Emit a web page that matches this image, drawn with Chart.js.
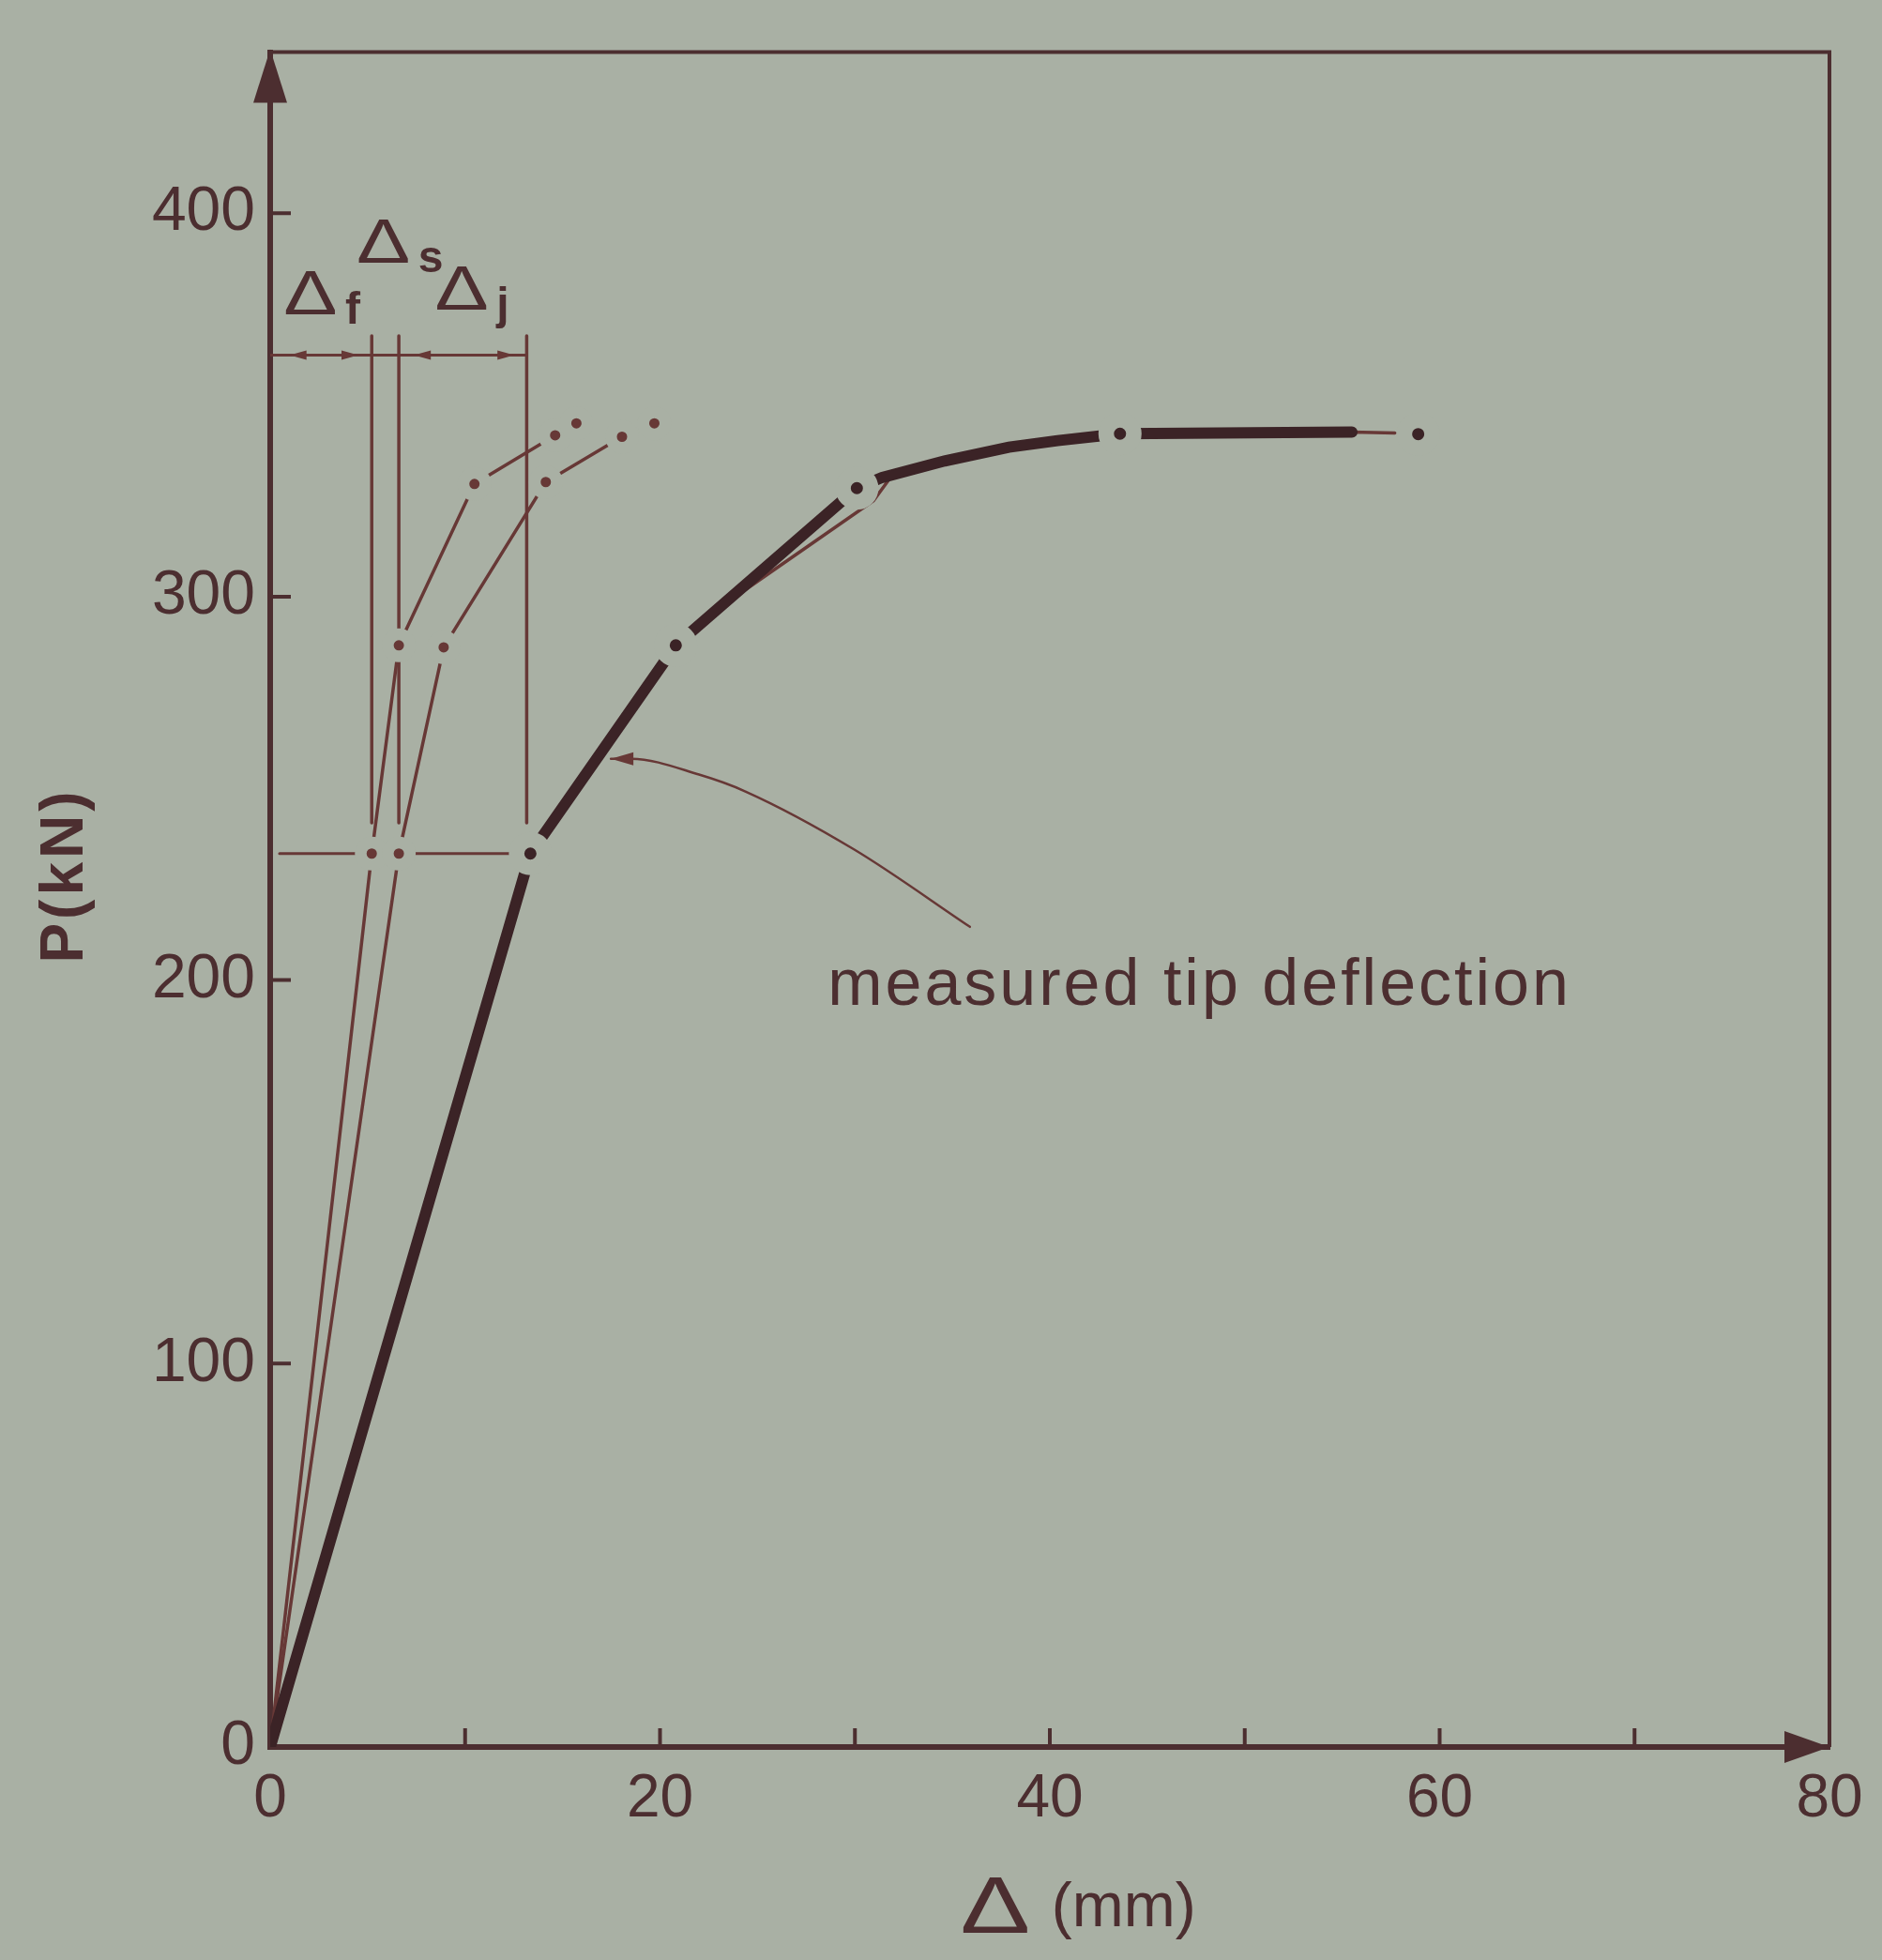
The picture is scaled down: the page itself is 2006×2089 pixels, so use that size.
<!DOCTYPE html>
<html>
<head>
<meta charset="utf-8">
<title>P – Δ tip deflection</title>
<script src="https://cdn.jsdelivr.net/npm/chart.js@4.4.1/dist/chart.umd.min.js"></script>
<style>
  html, body { margin: 0; padding: 0; background: #a9b0a4; }
  canvas { display: block; }
</style>
</head>
<body>
<canvas id="chart" width="2006" height="2089"></canvas>
<script>
// ── Values (Δ in mm, P in kN) ────────────────────────────────
const deltaF    = [[0, 0], [5.21, 233], [6.60, 287.3], [10.48, 329.4], [14.62, 342.1]];
const deltaFS   = [[0, 0], [6.60, 233], [8.90, 286.8], [14.14, 329.9], [18.05, 341.7]];
const deltaCalc = [[20.81, 287.3], [23.5, 298.7], [30.95, 325.0], [31.9, 331.6], [34.6, 335.6], [37.9, 339.2], [40.4, 340.9], [43.6, 342.6], [55.5, 342.9], [57.7, 342.7]];
const measured  = [[0, 0], [13.35, 233], [20.81, 287.3], [30.1, 328.3], [31.4, 331.1], [34.6, 335.4], [37.9, 339.0], [40.4, 340.7], [43.6, 342.5], [55.5, 342.9]];
const dotsThin  = [[5.21, 233], [6.60, 233], [6.60, 287.3], [10.48, 329.4], [14.62, 342.1], [15.71, 345.2],
                   [8.90, 286.8], [14.14, 329.9], [18.05, 341.7], [19.71, 345.2]];
const dotsThick = [[13.35, 233], [20.81, 287.3], [30.1, 328.3], [43.6, 342.5], [58.9, 342.4]];
const splitX    = [5.21, 6.60, 13.16];     // Δf | Δs | Δj boundaries
const splitP    = [241, 368];              // extent of the boundary lines
const refLoad   = 233;                     // chain line where components are read
const dimLoad   = 363;                     // dimension line
const dimArrows = [[1.38, -1], [4.14, 1], [7.76, -1], [12.14, 1]];
const leader    = [[17.48, 257.7], [18.52, 257.7], [22.0, 253.6], [24.38, 249.2], [29.95, 234.1], [35.9, 213.9]];
const xTicks    = [0, 10, 20, 30, 40, 50, 60, 70, 80];
const xLabels   = [0, 20, 40, 60, 80];
const yTicks    = [0, 100, 200, 300, 400];
const deltaTags = [['f', 2.07, 373.6], ['s', 5.81, 387.0], ['j', 9.83, 374.8]];

// ── Look ─────────────────────────────────────────────────────
const PAPER = '#a9b0a4';
const INK   = '#4c2e30';
const THIN  = '#673836';
const THICK = '#3b2326';
const FONT  = "'Liberation Sans', Arial, Helvetica, sans-serif";

const pts = arr => arr.map(([x, y]) => ({ x, y }));
const lineDs = (data, color, width, extra) => Object.assign({
  data: pts(data), showLine: true, borderColor: color, borderWidth: width,
  pointRadius: 0, pointHoverRadius: 0, borderCapStyle: 'round', fill: false,
}, extra);

function arrowHead(ctx, x, y, ang, len, half) {
  ctx.save();
  ctx.translate(x, y);
  ctx.rotate(ang);
  ctx.beginPath();
  ctx.moveTo(0, 0);
  ctx.lineTo(-len, -half);
  ctx.lineTo(-len, half);
  ctx.closePath();
  ctx.fill();
  ctx.restore();
}

function delta(ctx, cx, base, size, sx) {
  ctx.save();
  ctx.font = `${size}px ${FONT}`;
  ctx.textAlign = 'center';
  ctx.textBaseline = 'alphabetic';
  ctx.translate(cx, base);
  ctx.scale(sx, 1);
  ctx.fillText('Δ', 0, 0);
  ctx.restore();
}

// frame, arrows, inward ticks and texts
const figurePlugin = {
  id: 'figure',
  beforeDraw(chart) {
    const ctx = chart.ctx;
    ctx.save();
    ctx.fillStyle = PAPER;
    ctx.fillRect(0, 0, chart.width, chart.height);
    ctx.restore();
  },
  afterDraw(chart) {
    const { ctx, chartArea: a, scales: { x, y } } = chart;
    ctx.save();
    ctx.strokeStyle = INK;
    ctx.fillStyle = INK;

    // box top and right
    ctx.lineWidth = 4;
    ctx.beginPath();
    ctx.moveTo(a.left, a.top);
    ctx.lineTo(a.right, a.top);
    ctx.lineTo(a.right, a.bottom);
    ctx.stroke();

    // axis arrows
    arrowHead(ctx, a.left, a.top - 3, -Math.PI / 2, 57, 18);
    arrowHead(ctx, a.right, a.bottom, 0, 48, 17);

    // inward tick marks
    ctx.lineWidth = 4;
    ctx.beginPath();
    xTicks.slice(1, -1).forEach(v => {
      const px = x.getPixelForValue(v);
      ctx.moveTo(px, a.bottom);
      ctx.lineTo(px, a.bottom - 20);
    });
    yTicks.slice(1).forEach(v => {
      const py = y.getPixelForValue(v);
      ctx.moveTo(a.left, py);
      ctx.lineTo(a.left + 22, py);
    });
    ctx.stroke();

    // dimension line arrowheads
    ctx.fillStyle = THIN;
    dimArrows.forEach(([v, dir]) => {
      arrowHead(ctx, x.getPixelForValue(v) + dir * 8, y.getPixelForValue(dimLoad),
                dir > 0 ? 0 : Math.PI, 18, 5);
    });
    // leader arrowhead
    arrowHead(ctx, x.getPixelForValue(leader[0][0]), y.getPixelForValue(leader[0][1]),
              Math.PI, 24, 7);

    // Δf, Δs, Δj
    ctx.fillStyle = INK;
    deltaTags.forEach(([sub, xv, pv]) => {
      const cx = x.getPixelForValue(xv), bl = y.getPixelForValue(pv);
      delta(ctx, cx, bl, 66, 1.3);
      ctx.font = `bold 48px ${FONT}`;
      ctx.textAlign = 'left';
      ctx.textBaseline = 'alphabetic';
      ctx.fillText(sub, cx + 37, bl + 10);
    });

    // annotation
    ctx.font = `70px ${FONT}`;
    ctx.letterSpacing = '3px';
    ctx.textAlign = 'left';
    ctx.fillText('measured tip deflection', x.getPixelForValue(28.6), y.getPixelForValue(193.5));

    // axis titles
    const dx = x.getPixelForValue(37.2);
    ctx.letterSpacing = '0px';
    delta(ctx, dx, a.bottom + 198, 86, 1.3);
    ctx.font = `66px ${FONT}`;
    ctx.textAlign = 'left';
    ctx.fillText('(mm)', dx + 60, a.bottom + 191);

    ctx.translate(70, y.getPixelForValue(227.3));
    ctx.rotate(-Math.PI / 2);
    ctx.font = `bold 64px ${FONT}`;
    ctx.letterSpacing = '4px';
    ctx.textAlign = 'center';
    ctx.textBaseline = 'middle';
    ctx.fillText('P(kN)', 0, 0);
    ctx.restore();
  },
};

new Chart(document.getElementById('chart'), {
  type: 'scatter',
  data: {
    datasets: [
      { data: pts(dotsThick), showLine: false, pointRadius: 14.75, pointBorderWidth: 16.5,
        pointBackgroundColor: THICK, pointBorderColor: PAPER, pointHoverRadius: 0 },
      { data: pts(dotsThin), showLine: false, pointRadius: 11.75, pointBorderWidth: 12.5,
        pointBackgroundColor: THIN, pointBorderColor: PAPER, pointHoverRadius: 0 },
      lineDs(measured, THICK, 12),
      lineDs(deltaCalc, THIN, 3.5),
      lineDs(deltaF, THIN, 3.5),
      lineDs(deltaFS, THIN, 3.5),
      ...splitX.map(v => lineDs([[v, splitP[0]], [v, splitP[1]]], THIN, 3.5)),
      lineDs([[0.48, refLoad], [measured[1][0], refLoad]], THIN, 3),
      lineDs([[0, dimLoad], [splitX[2], dimLoad]], THIN, 3),
      lineDs(leader, THIN, 2.5, { cubicInterpolationMode: 'monotone' }),
    ],
  },
  options: {
    responsive: false,
    devicePixelRatio: 1,
    animation: false,
    events: [],
    layout: { padding: { top: 46, right: 56, bottom: 0, left: 0 } },
    plugins: { legend: { display: false }, tooltip: { enabled: false } },
    scales: {
      x: {
        type: 'linear', min: 0, max: 80,
        afterBuildTicks: s => { s.ticks = xTicks.map(v => ({ value: v })); },
        afterFit: s => { s.height = 227; },
        grid: { display: false, drawTicks: false },
        border: { display: true, color: INK, width: 6 },
        ticks: {
          autoSkip: false, maxRotation: 0, padding: 18, color: INK,
          font: { family: FONT, size: 64 },
          callback: v => xLabels.includes(v) ? String(v) : '',
        },
      },
      y: {
        type: 'linear', min: 0, max: 442,
        afterBuildTicks: s => { s.ticks = yTicks.map(v => ({ value: v })); },
        afterFit: s => { s.width = 288; },
        grid: { display: false, drawTicks: false },
        border: { display: true, color: INK, width: 6 },
        ticks: { padding: 16, color: INK, font: { family: FONT, size: 66 } },
      },
    },
  },
  plugins: [figurePlugin],
});
</script>
</body>
</html>
